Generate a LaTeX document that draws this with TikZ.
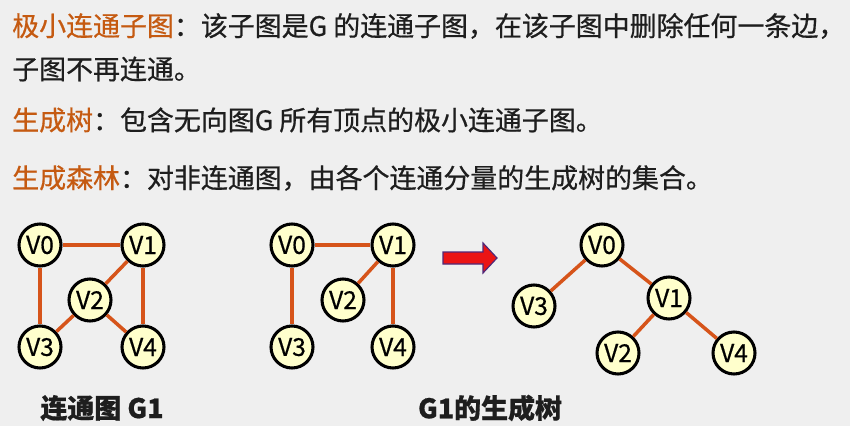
\documentclass[tikz,border=0pt]{standalone}
\usepackage{fontspec}
\usepackage{xcolor}
\usepackage{tikz}
\setmainfont{Noto Sans CJK SC}
\newfontfamily\cjk[FakeBold=0.6]{Noto Sans CJK SC}
\definecolor{bgc}{RGB}{239,239,239}
\definecolor{termc}{RGB}{197,90,17}
\definecolor{edgec}{RGB}{214,84,26}
\definecolor{vfill}{RGB}{255,255,204}
\definecolor{txtc}{RGB}{30,30,30}
\definecolor{arrfill}{RGB}{235,20,20}
\definecolor{arrline}{RGB}{80,40,120}

\begin{document}
\begin{tikzpicture}[
  x=0.03cm, y=-0.03cm,
  vtx/.style    = {circle, draw=black, line width=2.6pt, fill=vfill,
                   minimum size=1.26cm, inner sep=0pt,
                   font=\cjk\fontsize{21}{21}\selectfont},
  conn/.style   = {draw=edgec, line width=3pt},
  deftxt/.style = {anchor=west, inner sep=0pt, text=txtc,
                   font=\cjk\fontsize{23}{23}\selectfont},
  gcap/.style   = {inner sep=0pt, text=txtc,
                   font=\cjk\bfseries\fontsize{23}{23}\selectfont},
  bigarr/.style = {fill=arrfill, draw=arrline, line width=1pt,
                   line join=miter}
]
\path[use as bounding box, fill=bgc] (0,0) rectangle (850,426);

%%% ---- DEFINITIONS (top) ----
\node[deftxt] (def1)  at (12,26)  {\textcolor{termc}{极小连通子图}：该子图是G 的连通子图，在该子图中删除任何一条边，};
\node[deftxt] (def1b) at (12,69)  {子图不再连通。};
\node[deftxt] (def2)  at (12,120) {\textcolor{termc}{生成树}：包含无向图G 所有顶点的极小连通子图。};
\node[deftxt] (def3)  at (12,178) {\textcolor{termc}{生成森林}：对非连通图，由各个连通分量的生成树的集合。};

%%% ---- CONNECTED GRAPH G1 ----
\node[vtx] (a0) at (40,245)  {V0};
\node[vtx] (a1) at (143,245) {V1};
\node[vtx] (a2) at (90,300)  {V2};
\node[vtx] (a3) at (40,347)  {V3};
\node[vtx] (a4) at (143,347) {V4};

\draw[conn] (a0) -- (a1);
\draw[conn] (a0) -- (a3);
\draw[conn] (a1) -- (a2);
\draw[conn] (a1) -- (a4);
\draw[conn] (a2) -- (a3);
\draw[conn] (a2) -- (a4);

\node[gcap] (capA) at (102,408) {连通图 G1};

%%% ---- SPANNING TREE OF G1 ----
\node[vtx] (b0) at (292,245) {V0};
\node[vtx] (b1) at (393,245) {V1};
\node[vtx] (b2) at (343,300) {V2};
\node[vtx] (b3) at (292,347) {V3};
\node[vtx] (b4) at (393,347) {V4};

\draw[conn] (b0) -- (b1);
\draw[conn] (b0) -- (b3);
\draw[conn] (b1) -- (b2);
\draw[conn] (b1) -- (b4);

\node[gcap] (capB) at (490,408) {G1的生成树};

% block arrow
\draw[bigarr] (443,252) -- (483,252) -- (483,243) -- (497,258)
  -- (483,273) -- (483,264) -- (443,264) -- cycle;

%%% ---- SAME TREE, REDRAWN ----
\node[vtx] (t0) at (602,245) {V0};
\node[vtx] (t3) at (534,306) {V3};
\node[vtx] (t1) at (669,298) {V1};
\node[vtx] (t2) at (618,353) {V2};
\node[vtx] (t4) at (734,353) {V4};

\draw[conn] (t0) -- (t3);
\draw[conn] (t0) -- (t1);
\draw[conn] (t1) -- (t2);
\draw[conn] (t1) -- (t4);
\end{tikzpicture}
\end{document}
